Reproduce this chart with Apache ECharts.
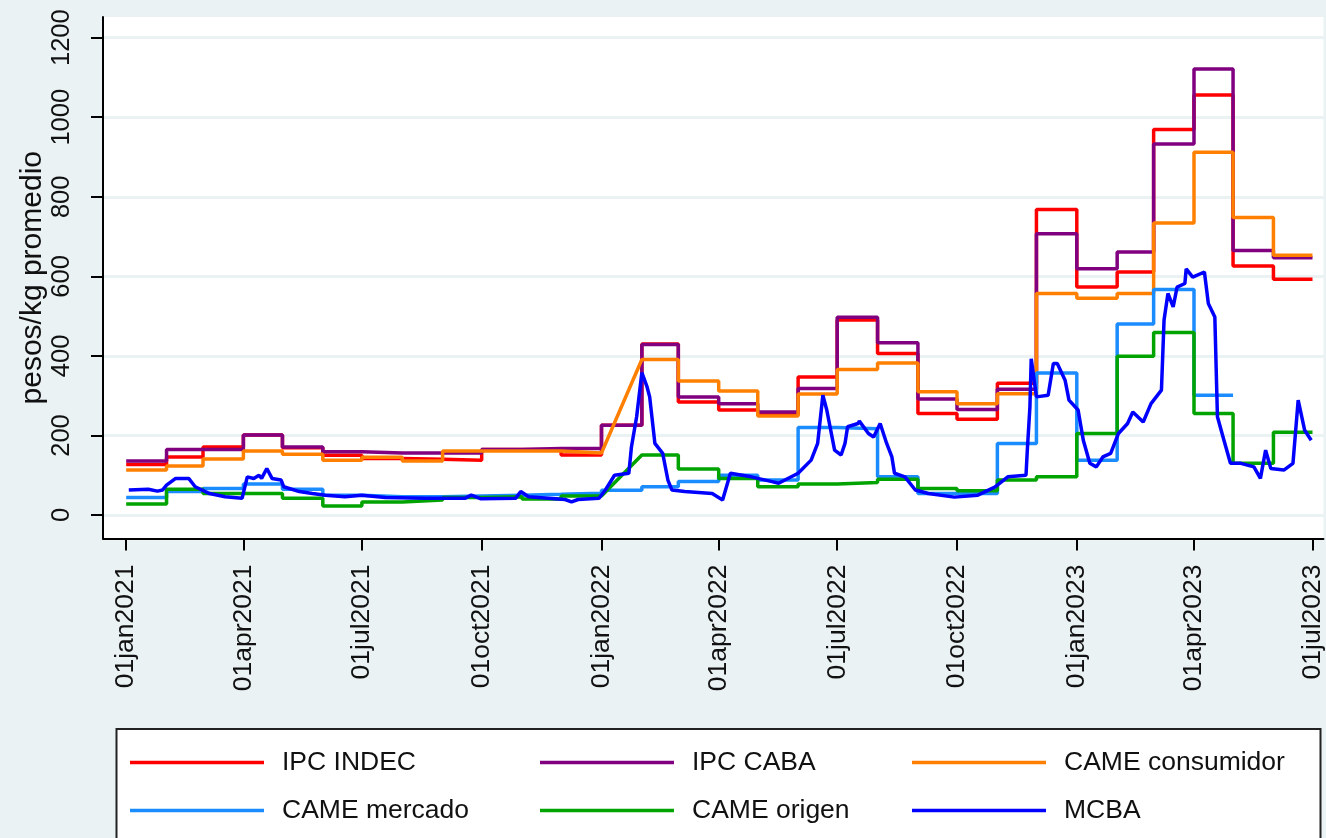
<!DOCTYPE html>
<html>
<head>
<meta charset="utf-8">
<script src="https://cdn.jsdelivr.net/npm/echarts@6/dist/echarts.min.js"></script>
<style>
  html, body { margin: 0; padding: 0; background: #eaf2f3; }
  #chart { width: 1326px; height: 838px; }
</style>
</head>
<body>
<div id="chart"></div>
<script>
// monthly series, jan2021 .. jun2023 (null = no data that month)
var ipcIndec = [127, 146, 171, 201, 169, 150, 142, 140, 138, 165, 165, 151,
                226, 430, 284, 264, 253, 347, 490, 406, 255, 241, 331, 768,
                573, 611, 969, 1056, 626, 593];
var ipcCaba = [136, 165, 165, 201, 171, 159, 156, 156, 156, 165, 167, 167,
               226, 429, 297, 280, 259, 318, 497, 433, 292, 265, 316, 707,
               619, 661, 933, 1121, 665, 647];
var cameConsumidor = [113, 123, 141, 161, 153, 138, 145, 136, 161, 161, 161, 156,
                      null, 391, 337, 312, 249, 304, 366, 382, 310, 280, 305, 557,
                      545, 557, 734, 912, 748, 653];
var cameMercado = [44, 59, 67, 78, 65, 50, 46, 46, 48, 50, 52, 55,
                   62, 71, 84, 100, 88, 220, 217, 96, 54, 54, 180, 357,
                   138, 480, 567, 301, null, null];
var cameOrigen = [28, 65, 54, 54, 42, 23, 33, 38, 44, 46, 40, 48,
                  null, 151, 116, 92, 71, 78, 82, 90, 67, 61, 88, 96,
                  205, 399, 459, 255, 130, 208];

// MCBA: days since 01jan2021 and value
var mcbaDays = [2, 17, 24, 28, 31, 38, 48, 53, 64, 76, 89, 93, 98, 102, 104, 108, 112, 119, 121, 133,
  143, 153, 168, 181, 199, 230, 260, 265, 272, 299, 303, 309, 337, 342, 347, 363, 368, 375, 386, 388,
  392, 396, 400, 402, 406, 412, 416, 419, 429, 450, 458, 464, 480, 496, 501, 516, 526, 531, 535, 538,
  544, 549, 552, 554, 562, 563, 570, 574, 579, 584, 588, 590, 598, 606, 616, 636, 654, 667, 677, 691,
  692, 694, 695, 699, 708, 712, 715, 721, 724, 731, 735, 740, 745, 750, 756, 762, 769, 773, 781, 787,
  795, 797, 800, 804, 807, 813, 814, 819, 828, 831, 836, 837, 838, 843, 848, 856, 866, 871, 875, 879,
  889, 896, 900, 905, 910];
var mcbaValues = [63, 65, 60, 63, 75, 92, 92, 71, 54, 46, 42, 96, 92, 100, 92, 117, 92, 88, 71, 59,
  54, 50, 46, 50, 44, 42, 42, 50, 41, 42, 59, 46, 39, 33, 39, 42, 63, 100, 105, 171,
  247, 358, 322, 297, 180, 155, 88, 63, 59, 54, 38, 105, 96, 84, 80, 105, 138, 180, 301, 264,
  163, 151, 180, 222, 230, 236, 205, 196, 230, 180, 146, 105, 96, 63, 54, 45, 50, 70, 96, 100,
  163, 272, 393, 297, 301, 381, 381, 339, 289, 264, 188, 130, 121, 146, 155, 205, 230, 259, 234, 280,
  314, 490, 557, 523, 573, 582, 619, 598, 611, 532, 498, 372, 247, 188, 130, 130, 121, 92, 163, 117,
  113, 130, 289, 213, 188];

var tickDays = [0, 90, 181, 273, 365, 455, 546, 638, 730, 820, 911];
var yTicks = [0, 200, 400, 600, 800, 1000, 1200];
var monthNames = ['jan', 'feb', 'mar', 'apr', 'may', 'jun', 'jul', 'aug', 'sep', 'oct', 'nov', 'dec'];

var base = Date.UTC(2021, 0, 1);
function monthStart(i) {
  return (Date.UTC(2021, i, 1) - base) / 86400000;
}
function dayLabel(d) {
  var t = new Date(base + Math.round(d) * 86400000);
  var dd = t.getUTCDate();
  return (dd < 10 ? '0' : '') + dd + monthNames[t.getUTCMonth()] + t.getUTCFullYear();
}
// each month is held flat from its first day to the first day of next month
function monthly(vals) {
  var out = [];
  for (var i = 0; i < vals.length; i++) {
    if (vals[i] == null) continue;
    out.push([monthStart(i), vals[i]]);
    out.push([monthStart(i + 1), vals[i]]);
  }
  return out;
}
function daily(days, vals) {
  var out = [];
  for (var i = 0; i < days.length; i++) out.push([days[i], vals[i]]);
  return out;
}

function lineSeries(name, color, data) {
  return {
    name: name,
    type: 'line',
    data: data,
    showSymbol: false,
    symbol: 'none',
    connectNulls: true,
    lineStyle: { color: color, width: 3.5 },
    itemStyle: { color: color },
    emphasis: { disabled: true },
    animation: false
  };
}

var legendBase = {
  orient: 'vertical',
  icon: 'rect',
  itemWidth: 134,
  itemHeight: 3.5,
  itemGap: 21,
  padding: 0,
  top: 749,
  selectedMode: false,
  textStyle: { fontFamily: 'Liberation Sans, Arial', fontSize: 26.5, color: '#111', padding: [0, 0, 0, 13] }
};

var chart = echarts.init(document.getElementById('chart'));
var option = {
  backgroundColor: '#eaf2f3',
  animation: false,
  textStyle: { fontFamily: 'Liberation Sans, Arial' },
  grid: {
    left: 103, right: 0, top: 17, bottom: 299.5,
    show: true, backgroundColor: '#ffffff', borderWidth: 0
  },
  graphic: [{
    type: 'rect',
    shape: { x: 116.5, y: 729, width: 1204, height: 130 },
    style: { fill: '#ffffff', stroke: '#222', lineWidth: 2 },
    z: 0
  }],
  legend: [
    Object.assign({}, legendBase, { left: 130, data: ['IPC INDEC', 'CAME mercado'] }),
    Object.assign({}, legendBase, { left: 540, data: ['IPC CABA', 'CAME origen'] }),
    Object.assign({}, legendBase, { left: 912, data: ['CAME consumidor', 'MCBA'] })
  ],
  xAxis: {
    type: 'value',
    min: -17.8,
    max: 919.4,
    axisLine: { show: true, onZero: false, lineStyle: { color: '#000', width: 2 } },
    axisTick: { show: true, customValues: tickDays, length: 12, lineStyle: { color: '#000', width: 2 } },
    axisLabel: {
      customValues: tickDays,
      rotate: 90,
      margin: 26,
      fontSize: 26.5,
      color: '#111',
      formatter: function (v) { return dayLabel(v); }
    },
    splitLine: { show: false }
  },
  yAxis: {
    type: 'value',
    min: -59,
    max: 1252,
    name: 'pesos/kg promedio',
    nameLocation: 'middle',
    nameRotate: 90,
    nameGap: 55,
    nameMoveOverlap: false,
    nameTextStyle: { fontSize: 30, color: '#111' },
    axisLine: { show: true, onZero: false, lineStyle: { color: '#000', width: 2 } },
    axisTick: { show: true, customValues: yTicks, length: 12, lineStyle: { color: '#000', width: 2 } },
    axisLabel: {
      customValues: yTicks, rotate: 90, margin: 28, fontSize: 25.5, color: '#111',
      formatter: function (v) { return String(v); }
    },
    splitLine: { show: true, lineStyle: { color: '#eaf2f3', width: 3 } }
  },
  series: [
    lineSeries('IPC INDEC', '#ff0000', monthly(ipcIndec)),
    lineSeries('IPC CABA', '#800080', monthly(ipcCaba)),
    lineSeries('CAME consumidor', '#ff8000', monthly(cameConsumidor)),
    lineSeries('CAME mercado', '#1a8cff', monthly(cameMercado)),
    lineSeries('CAME origen', '#00a300', monthly(cameOrigen)),
    lineSeries('MCBA', '#0000ff', daily(mcbaDays, mcbaValues))
  ]
};
chart.setOption(option);
</script>
</body>
</html>
